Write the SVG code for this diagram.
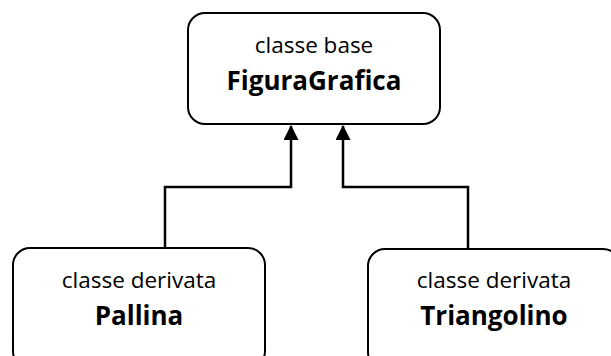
<svg xmlns="http://www.w3.org/2000/svg" width="611" height="356" viewBox="0 0 611 356">
<defs>
<style>
.box{fill:#fff;stroke:#000;stroke-width:2}
.t{font-family:"Open Sans","Liberation Sans",sans-serif;font-size:22.5px;text-anchor:middle;fill:#000}
.b{font-weight:bold;font-size:26px}
.c{fill:none;stroke:#000;stroke-width:2.5}
</style>
<marker id="ah" markerWidth="16" markerHeight="16" refX="14" refY="7.5" orient="auto" markerUnits="userSpaceOnUse">
<path d="M0,0 L15,7.5 L0,15 Z" fill="#000"/>
</marker>
</defs>
<g id="connectors">
<path class="c" d="M165,248 V187 H291 V126" marker-end="url(#ah)"/>
<path class="c" d="M468,249 V187 H343 V126" marker-end="url(#ah)"/>
</g>
<g id="figuragrafica">
<rect class="box" x="188" y="13" width="252" height="111" rx="17"/>
<text class="t" x="314" y="53">classe base</text>
<text class="t b" x="314" y="90">FiguraGrafica</text>
</g>
<g id="pallina">
<rect class="box" x="13" y="248" width="252" height="120" rx="17"/>
<text class="t" x="139" y="288">classe derivata</text>
<text class="t b" x="139" y="325">Pallina</text>
</g>
<g id="triangolino">
<rect class="box" x="368" y="249" width="252" height="120" rx="17"/>
<text class="t" x="494" y="288">classe derivata</text>
<text class="t b" x="494" y="325">Triangolino</text>
</g>
</svg>
